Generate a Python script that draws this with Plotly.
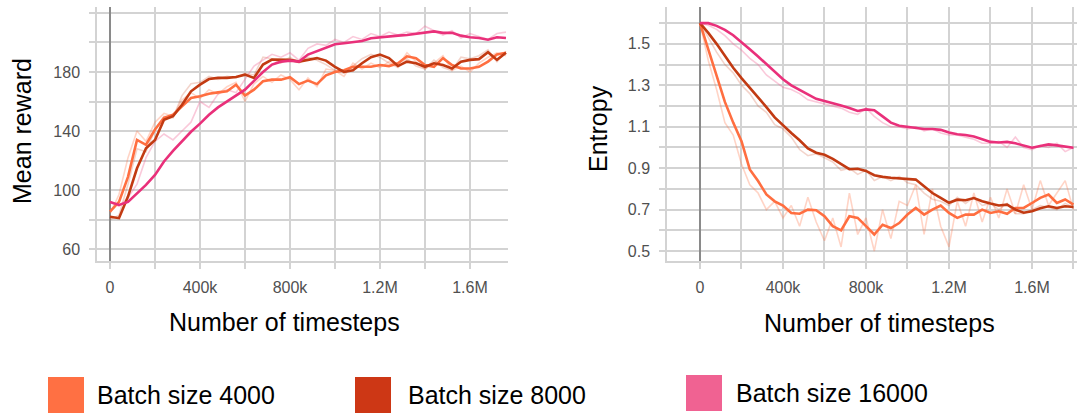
import plotly.graph_objects as go

# ---------------- data ----------------
steps_reward = [i * 40000 for i in range(45)]      # 0 .. 1.76M
steps_entropy = [i * 40000 for i in range(46)]     # 0 .. 1.80M

reward_4000 = [85.4, 92, 109, 134, 130.7, 141, 149, 151, 156.7, 162.4, 163.5, 165.3, 166.2, 166.9, 171.4,
               164, 168, 173.7, 174.8, 174.8, 176.5, 171.8, 174.2, 171.8, 177.7, 180, 181.2, 183.5, 183.5,
               183.5, 184.7, 184, 185.9, 190.6, 189.4, 184.7, 183.5, 189.4, 184.7, 182.4, 182.4, 183.5,
               187, 191.8, 193]
reward_8000 = [82, 81, 95.6, 114.8, 128.4, 134, 147.6, 150, 157.8, 166.9, 171.4, 175.2, 176, 176, 176.6,
               178.2, 176, 185, 188.4, 188.4, 188.2, 187, 188.2, 189.4, 187.7, 183.5, 180, 181.2, 185.9,
               190, 191.8, 189.4, 184, 187, 185.9, 183.5, 185.9, 184.7, 182.4, 187, 188.2, 188.7, 193.4,
               188.2, 193]
reward_16000 = [92, 90, 92, 98, 103.5, 110.3, 119.4, 126.5, 133, 139.5, 145, 151, 156, 160, 164, 168, 174,
                180, 185, 187, 187.7, 187, 191.8, 194, 196.5, 198.8, 199.5, 200, 201, 202.8, 203.5, 204.2,
                204.6, 205, 205.8, 207, 207.5, 206.5, 206.5, 204.6, 203.5, 203, 201.8, 203.5, 203]

reward_4000_raw = [84, 97, 122, 140, 133, 146, 152, 150, 161, 166, 162, 168, 165, 170, 173, 160, 172, 177,
                   173, 178, 175, 168, 176, 170, 182, 181, 177, 186, 182, 186, 183, 187, 184, 193, 187, 182,
                   186, 191, 181, 184, 180, 186, 190, 193, 191]
reward_8000_raw = [80, 83, 104, 128, 126, 141, 150, 149, 164, 172, 173, 177, 175, 177, 176, 179, 178, 190,
                   189, 186, 190, 186, 190, 188, 185, 181, 179, 184, 189, 192, 190, 186, 183, 189, 184, 182,
                   188, 183, 181, 190, 189, 191, 195, 187, 194]
reward_16000_raw = [92, 89, 95, 104, 122, 133, 138, 134, 140, 146, 160, 156, 165, 168, 166, 175, 184, 188,
                    192, 190, 193, 188, 196, 199, 198, 202, 200, 204, 202, 206, 204, 207, 205, 207, 206, 211,
                    208, 205, 208, 203, 206, 204, 202, 206, 207]

entropy_4000 = [1.6, 1.474, 1.345, 1.22, 1.12, 1.03, 0.894, 0.838, 0.773, 0.74, 0.72, 0.684, 0.68, 0.70,
                0.697, 0.668, 0.62, 0.60, 0.668, 0.66, 0.62, 0.58, 0.627, 0.611, 0.635, 0.676, 0.708, 0.676,
                0.70, 0.72, 0.684, 0.66, 0.676, 0.676, 0.70, 0.684, 0.692, 0.68, 0.708, 0.708, 0.732, 0.757,
                0.773, 0.732, 0.749, 0.724]
entropy_8000 = [1.6, 1.553, 1.50, 1.44, 1.385, 1.335, 1.29, 1.245, 1.195, 1.145, 1.105, 1.07, 1.035, 0.995,
                0.975, 0.965, 0.945, 0.92, 0.895, 0.897, 0.887, 0.866, 0.858, 0.854, 0.852, 0.848, 0.845,
                0.813, 0.78, 0.757, 0.733, 0.748, 0.745, 0.756, 0.74, 0.729, 0.72, 0.724, 0.70, 0.685, 0.692,
                0.707, 0.716, 0.708, 0.716, 0.713]
entropy_16000 = [1.6, 1.6, 1.587, 1.568, 1.542, 1.51, 1.474, 1.439, 1.402, 1.365, 1.329, 1.3, 1.28, 1.256,
                 1.235, 1.225, 1.216, 1.203, 1.19, 1.176, 1.184, 1.18, 1.15, 1.12, 1.105, 1.1, 1.096, 1.089,
                 1.089, 1.085, 1.072, 1.064, 1.06, 1.053, 1.04, 1.027, 1.024, 1.027, 1.02, 1.01, 0.999, 1.007,
                 1.015, 1.01, 1.004, 0.999]

entropy_4000_raw = [1.6, 1.42, 1.28, 1.12, 1.06, 0.92, 0.82, 0.78, 0.70, 0.74, 0.66, 0.72, 0.62, 0.76, 0.64,
                    0.55, 0.66, 0.52, 0.78, 0.58, 0.66, 0.50, 0.70, 0.56, 0.74, 0.72, 0.82, 0.58, 0.80, 0.62,
                    0.52, 0.74, 0.62, 0.78, 0.64, 0.76, 0.66, 0.80, 0.68, 0.82, 0.70, 0.84, 0.72, 0.78, 0.84,
                    0.70]
entropy_8000_raw = [1.6, 1.53, 1.46, 1.40, 1.36, 1.30, 1.26, 1.20, 1.17, 1.11, 1.09, 1.05, 0.99, 0.96, 0.97,
                    0.95, 0.93, 0.89, 0.90, 0.87, 0.89, 0.84, 0.86, 0.84, 0.86, 0.83, 0.82, 0.78, 0.75, 0.74,
                    0.72, 0.76, 0.73, 0.76, 0.72, 0.73, 0.70, 0.73, 0.68, 0.68, 0.70, 0.72, 0.71, 0.70, 0.73,
                    0.71]
entropy_16000_raw = [1.6, 1.59, 1.57, 1.54, 1.50, 1.47, 1.43, 1.40, 1.35, 1.32, 1.29, 1.28, 1.26, 1.23, 1.22,
                     1.21, 1.20, 1.19, 1.17, 1.16, 1.19, 1.15, 1.12, 1.10, 1.10, 1.09, 1.10, 1.08, 1.09, 1.07,
                     1.06, 1.06, 1.05, 1.04, 1.02, 1.02, 1.03, 1.00, 1.05, 1.00, 0.99, 1.01, 1.00, 1.02, 0.98,
                     1.00]

series_names = ["Batch size 4000", "Batch size 8000", "Batch size 16000"]

# ---------------- style ----------------
W, H = 1077, 414
line_colors = ["#FF6E40", "#C23A12", "#E9307A"]
faint_colors = ["rgba(255,112,67,0.30)", "rgba(200,60,20,0.22)", "rgba(240,98,146,0.34)"]
legend_colors = ["#FF7043", "#CD3715", "#F06292"]
GRID = "#d3d3d3"
FONT = "Liberation Sans, Arial, sans-serif"

fig = go.Figure()

reward_raw = [reward_4000_raw, reward_8000_raw, reward_16000_raw]
reward_s = [reward_4000, reward_8000, reward_16000]
ent_raw = [entropy_4000_raw, entropy_8000_raw, entropy_16000_raw]
ent_s = [entropy_4000, entropy_8000, entropy_16000]

for i in range(3):
    fig.add_trace(go.Scatter(x=steps_reward, y=reward_raw[i], mode="lines",
                             line=dict(color=faint_colors[i], width=1.6),
                             xaxis="x", yaxis="y", showlegend=False, hoverinfo="skip"))
    fig.add_trace(go.Scatter(x=steps_entropy, y=ent_raw[i], mode="lines",
                             line=dict(color=faint_colors[i], width=1.6),
                             xaxis="x2", yaxis="y2", showlegend=False, hoverinfo="skip"))
for i in range(3):
    fig.add_trace(go.Scatter(x=steps_reward, y=reward_s[i], mode="lines", name=series_names[i],
                             line=dict(color=line_colors[i], width=2.6),
                             xaxis="x", yaxis="y", showlegend=False))
    fig.add_trace(go.Scatter(x=steps_entropy, y=ent_s[i], mode="lines", name=series_names[i],
                             line=dict(color=line_colors[i], width=2.6),
                             xaxis="x2", yaxis="y2", showlegend=False))

tickfont = dict(family=FONT, size=16, color="#505050")

def xax(domain, rng):
    return dict(domain=domain, range=rng, tickmode="linear", tick0=0, dtick=400000, tickformat="~s",
                showgrid=True, gridcolor=GRID, gridwidth=1.5,
                minor=dict(dtick=200000, tick0=0, showgrid=True, gridcolor=GRID, gridwidth=1.5,
                           ticks="outside", ticklen=6, tickcolor=GRID, tickwidth=1.5),
                ticks="outside", ticklen=6, tickcolor=GRID, tickwidth=1.5, ticklabelstandoff=5,
                zeroline=True, zerolinecolor="#8a8a8a", zerolinewidth=2,
                showline=True, linecolor=GRID, linewidth=1.5, tickfont=tickfont, fixedrange=True)

def yax(domain, rng, tickvals, ticktext, minor_dtick, anchor):
    return dict(domain=domain, range=rng, anchor=anchor, tickmode="array", tickvals=tickvals,
                ticktext=ticktext, showgrid=True, gridcolor=GRID, gridwidth=1.5,
                minor=dict(dtick=minor_dtick, tick0=0, showgrid=True, gridcolor=GRID, gridwidth=1.5,
                           ticks="outside", ticklen=6, tickcolor=GRID, tickwidth=1.5),
                ticks="outside", ticklen=6, tickcolor=GRID, tickwidth=1.5, ticklabelstandoff=6,
                zeroline=False, showline=True, linecolor=GRID, linewidth=1.5,
                tickfont=tickfont, fixedrange=True)

ydom = [1 - 261 / H, 1 - 7 / H]
reward_ticks = [60, 100, 140, 180]
entropy_ticks = [0.5, 0.7, 0.9, 1.1, 1.3, 1.5]

fig.update_layout(
    width=W, height=H, margin=dict(l=0, r=0, t=0, b=0),
    paper_bgcolor="white", plot_bgcolor="white", showlegend=False,
    xaxis=xax([97 / W, 508 / W], [-57800, 1769000]) | dict(anchor="y"),
    yaxis=yax(ydom, [52, 224], reward_ticks, [str(v) for v in reward_ticks], 20, "x"),
    xaxis2=xax([667 / W, 1.0], [-159000, 1817000]) | dict(anchor="y2"),
    yaxis2=yax(ydom, [0.452, 1.678], entropy_ticks, [f"{v:.1f}" for v in entropy_ticks], 0.1, "x2"),
)

title_font = dict(family=FONT, size=25, color="#000000")
annos = [
    dict(text="Mean reward", x=22 / W, y=1 - 131 / H, textangle=-90),
    dict(text="Entropy", x=598 / W, y=1 - 129 / H, textangle=-90),
    dict(text="Number of timesteps", x=284 / W, y=1 - 322 / H),
    dict(text="Number of timesteps", x=879 / W, y=1 - 323 / H),
]
for a in annos:
    fig.add_annotation(xref="paper", yref="paper", showarrow=False, font=title_font,
                       xanchor="center", yanchor="middle", **a)

# legend: coloured squares + labels
legend_pos = [(48, 377, 95), (355, 377, 406), (686, 375, 734)]
for i, (sx, sy, tx) in enumerate(legend_pos):
    fig.add_shape(type="rect", xref="paper", yref="paper",
                  x0=sx / W, x1=(sx + 36) / W, y0=1 - (sy + 36) / H, y1=1 - sy / H,
                  fillcolor=legend_colors[i], line=dict(width=0))
    fig.add_annotation(xref="paper", yref="paper", x=tx / W, y=1 - (sy + 18) / H, text=series_names[i],
                       showarrow=False, xanchor="left", yanchor="middle",
                       font=dict(family=FONT, size=25, color="#000000"))

fig.write_html("out.html")
